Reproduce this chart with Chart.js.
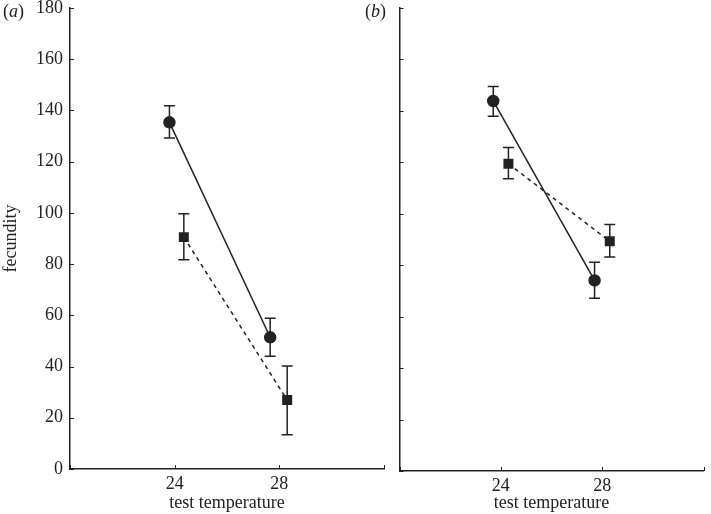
<!DOCTYPE html>
<html>
<head>
<meta charset="utf-8">
<script src="https://cdn.jsdelivr.net/npm/chart.js@4.4.0/dist/chart.umd.min.js"></script>
<style>
  body { margin: 0; background: #fff; overflow: hidden; }
  #wrap { position: relative; width: 711px; height: 514px; overflow: hidden; font-family: "Liberation Serif", serif; }
  .box { position: absolute; }
  .tag { position: absolute; top: 1px; font-size: 18px; color: #222; }
</style>
</head>
<body>
<div id="wrap">
  <div class="box" style="left:0; top:-10px; width:392px; height:524px;"><canvas id="chartA"></canvas></div>
  <div class="box" style="left:392px; top:0; width:319px; height:514px;"><canvas id="chartB"></canvas></div>
  <span class="tag" style="left:3px;">(<i>a</i>)</span>
  <span class="tag" style="left:365px;">(<i>b</i>)</span>
</div>
<script>
const xTicks = [20, 24, 28, 32];
const yTicks = [0, 20, 40, 60, 80, 100, 120, 140, 160, 180];

// panel (a)
const aCircleX = [23.8, 27.65];
const aCircleY = [135.3, 51.4];
const aCircleLo = [129.2, 44.0];
const aCircleHi = [141.8, 58.8];
const aSquareX = [24.35, 28.3];
const aSquareY = [90.5, 26.9];
const aSquareLo = [81.7, 13.4];
const aSquareHi = [99.6, 40.2];

// panel (b)
const bCircleX = [23.7, 27.7];
const bCircleY = [143.7, 74.0];
const bCircleLo = [137.8, 67.1];
const bCircleHi = [149.3, 81.1];
const bSquareX = [24.3, 28.3];
const bSquareY = [119.3, 89.2];
const bSquareLo = [113.5, 83.1];
const bSquareHi = [125.6, 95.7];

const ink = '#222';
const font = { family: 'Liberation Serif', size: 18 };

function pts(xs, ys) {
  return xs.map((x, i) => ({ x: x, y: ys[i] }));
}

const errorBars = {
  id: 'errorBars',
  beforeDatasetsDraw(chart) {
    const ctx = chart.ctx;
    const xs = chart.scales.x, ys = chart.scales.y;
    ctx.save();
    ctx.strokeStyle = ink;
    ctx.lineWidth = 1.5;
    chart.data.datasets.forEach(ds => {
      ds.data.forEach((p, i) => {
        const px = xs.getPixelForValue(p.x);
        const top = ys.getPixelForValue(ds.hi[i]);
        const bot = ys.getPixelForValue(ds.lo[i]);
        ctx.beginPath();
        ctx.moveTo(px, top); ctx.lineTo(px, bot);
        ctx.moveTo(px - 5.5, top); ctx.lineTo(px + 5.5, top);
        ctx.moveTo(px - 5.5, bot); ctx.lineTo(px + 5.5, bot);
        ctx.stroke();
      });
    });
    ctx.restore();
  }
};

const innerTicks = {
  id: 'innerTicks',
  afterDraw(chart) {
    const ctx = chart.ctx;
    const xs = chart.scales.x, ys = chart.scales.y;
    const area = chart.chartArea;
    ctx.save();
    ctx.strokeStyle = ink;
    ctx.lineWidth = 1;
    ctx.beginPath();
    yTicks.forEach(v => {
      const py = Math.round(ys.getPixelForValue(v)) + 0.5;
      ctx.moveTo(area.left, py); ctx.lineTo(area.left + 4, py);
    });
    xTicks.forEach(v => {
      const px = Math.round(xs.getPixelForValue(v)) + 0.5;
      ctx.moveTo(px, area.bottom); ctx.lineTo(px, area.bottom - 4);
    });
    ctx.stroke();
    ctx.restore();
  }
};

function makeChart(id, circle, square, showY, yWidth, rightPad, topPad, xHeight, bottomPad) {
  new Chart(document.getElementById(id), {
    type: 'scatter',
    data: {
      datasets: [
        {
          data: pts(circle[0], circle[1]), lo: circle[2], hi: circle[3],
          showLine: true, borderColor: ink, borderWidth: 1.5,
          pointStyle: 'circle', pointRadius: 5.5,
          pointBackgroundColor: ink, pointBorderColor: ink
        },
        {
          data: pts(square[0], square[1]), lo: square[2], hi: square[3],
          showLine: true, borderColor: ink, borderWidth: 1.5, borderDash: [4, 4],
          pointStyle: 'rect', pointRadius: 6,
          pointBackgroundColor: ink, pointBorderColor: ink
        }
      ]
    },
    options: {
      responsive: true,
      maintainAspectRatio: false,
      animation: false,
      layout: { padding: { top: topPad, right: rightPad, left: 0, bottom: bottomPad } },
      plugins: { legend: { display: false }, tooltip: { enabled: false } },
      scales: {
        x: {
          type: 'linear', min: 20, max: 32,
          afterBuildTicks: s => { s.ticks = xTicks.map(v => ({ value: v })); },
          afterFit: s => { s.height = xHeight; },
          grid: { display: false, drawTicks: false },
          border: { color: ink, width: 1.5 },
          ticks: {
            color: ink, font: font, padding: 4, maxRotation: 0,
            callback: v => (v === 24 || v === 28) ? String(v) : ''
          },
          title: { display: true, text: 'test temperature', color: ink, font: font, padding: { top: 0, bottom: 0 } }
        },
        y: {
          min: 0, max: 180,
          afterBuildTicks: s => { s.ticks = yTicks.map(v => ({ value: v })); },
          afterFit: s => { s.width = yWidth; },
          grid: { display: false, drawTicks: false },
          border: { color: ink, width: 1.5 },
          ticks: { display: showY, color: ink, font: font, padding: 7 },
          title: { display: showY, text: 'fecundity', color: ink, font: font, padding: { top: 0, bottom: 1 } }
        }
      }
    },
    plugins: [errorBars, innerTicks]
  });
}

makeChart('chartA',
  [aCircleX, aCircleY, aCircleLo, aCircleHi],
  [aSquareX, aSquareY, aSquareLo, aSquareHi], true, 70, 8, 0, 45, 0);
makeChart('chartB',
  [bCircleX, bCircleY, bCircleLo, bCircleHi],
  [bSquareX, bSquareY, bSquareLo, bSquareHi], false, 6, 1, 7, 43, 0);
</script>
</body>
</html>
